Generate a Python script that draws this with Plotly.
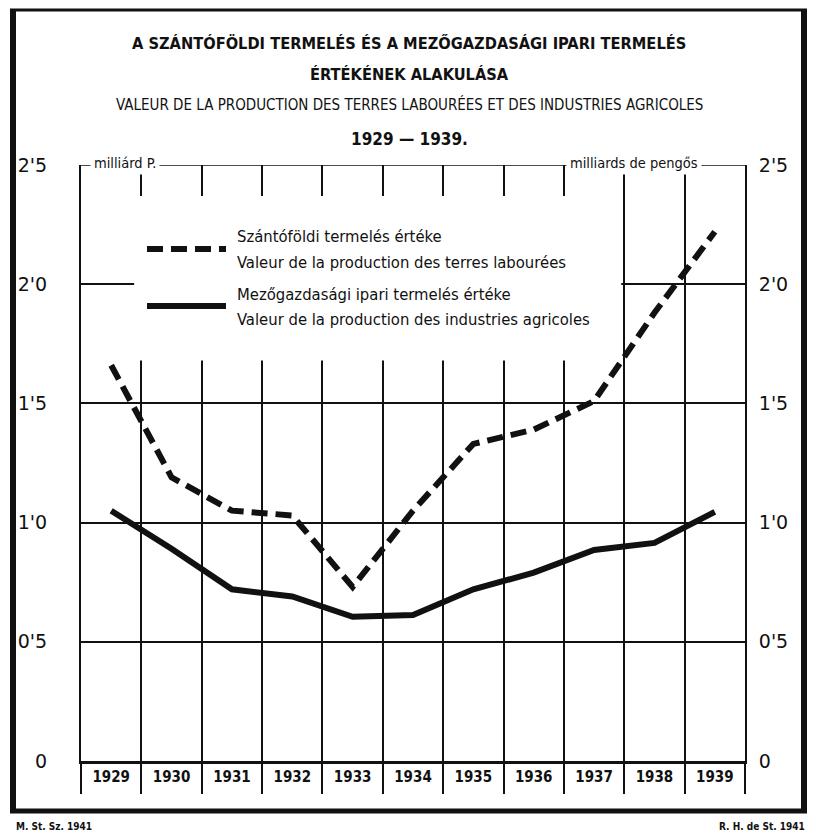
import plotly.graph_objects as go

# ---------------- data ----------------
years = [1929, 1930, 1931, 1932, 1933, 1934, 1935, 1936, 1937, 1938, 1939]
szantofoldi = [1.66, 1.19, 1.05, 1.03, 0.73, 1.05, 1.33, 1.39, 1.51, 1.88, 2.22]
mezogazd_ipari = [1.05, 0.89, 0.72, 0.69, 0.605, 0.612, 0.72, 0.79, 0.885, 0.915, 1.045]
y_tickvals = [0, 0.5, 1.0, 1.5, 2.0, 2.5]
y_ticktext = ["0", "0'5", "1'0", "1'5", "2'0", "2'5"]
year_labels = ["<b>%d</b>" % y for y in years]

# ---------------- geometry helpers (pixel -> paper) ----------------
W, H = 816, 838
L, R, T, B = 81, 745, 165, 761


def px(x):
    return (x - L) / (R - L)


def py(y):
    return (B - y) / (B - T)


COND = "Liberation Sans Narrow, DejaVu Sans Condensed, Arial Narrow, Roboto Condensed, sans-serif"
NUM = "DejaVu Sans, Liberation Sans, sans-serif"
INK = "#111111"

fig = go.Figure()
fig.add_trace(go.Scatter(
    x=years, y=szantofoldi, mode="lines", name="Szántóföldi termelés értéke",
    line=dict(color=INK, width=6, dash="16px,8px"), showlegend=False,
))
fig.add_trace(go.Scatter(
    x=years, y=mezogazd_ipari, mode="lines", name="Mezőgazdasági ipari termelés értéke",
    line=dict(color=INK, width=6), yaxis="y2", showlegend=False,
))

fig.update_layout(
    width=W, height=H,
    margin=dict(l=L, r=W - R, t=T, b=H - B),
    paper_bgcolor="white", plot_bgcolor="white",
    xaxis=dict(
        range=[1928.5, 1939.5], tickvals=years, ticktext=year_labels,
        showgrid=False, zeroline=False, ticks="",
        showline=True, linecolor=INK, linewidth=3,
        tickfont=dict(family=COND, size=15, color=INK),
        minor=dict(tick0=1928.5, dtick=1, showgrid=True, gridcolor=INK, gridwidth=1.5,
                   ticks="outside", ticklen=30, tickcolor=INK, tickwidth=1.5),
    ),
    yaxis=dict(
        range=[0, 2.5], tickvals=y_tickvals, ticktext=y_ticktext,
        showgrid=True, gridcolor=INK, gridwidth=1.5, zeroline=False,
        showline=True, linecolor=INK, linewidth=2, ticks="",
        ticklabelstandoff=28,
        tickfont=dict(family=NUM, size=19, color=INK),
    ),
    yaxis2=dict(
        range=[0, 2.5], tickvals=y_tickvals, ticktext=y_ticktext,
        overlaying="y", side="right", showgrid=False, zeroline=False,
        showline=True, linecolor=INK, linewidth=2, ticks="",
        ticklabelstandoff=8,
        tickfont=dict(family=NUM, size=19, color=INK),
    ),
    showlegend=False,
)

shapes = []
# top line at 2.5
shapes.append(dict(type="line", xref="paper", yref="y", x0=0, x1=1, y0=2.5, y1=2.5,
                   line=dict(color=INK, width=1.5)))
# blank area behind legend (grid interrupted)
shapes.append(dict(type="rect", xref="x", yref="y", x0=1929.38, x1=1937.45, y0=1.68, y1=2.37,
                   fillcolor="white", line=dict(width=0), layer="between"))
# legend samples
shapes.append(dict(type="line", xref="paper", yref="paper", x0=px(147), x1=px(226),
                   y0=py(249), y1=py(249), line=dict(color=INK, width=6, dash="16px,8px")))
shapes.append(dict(type="line", xref="paper", yref="paper", x0=px(147), x1=px(226),
                   y0=py(306), y1=py(306), line=dict(color=INK, width=6)))
# outer frame
shapes.append(dict(type="line", xref="paper", yref="paper", x0=px(13), x1=px(13), y0=py(9), y1=py(813),
                   line=dict(color=INK, width=6)))
shapes.append(dict(type="line", xref="paper", yref="paper", x0=px(804), x1=px(804), y0=py(9), y1=py(813),
                   line=dict(color=INK, width=6)))
shapes.append(dict(type="line", xref="paper", yref="paper", x0=px(10), x1=px(807), y0=py(10), y1=py(10),
                   line=dict(color=INK, width=3)))
shapes.append(dict(type="line", xref="paper", yref="paper", x0=px(10), x1=px(807), y0=py(811), y1=py(811),
                   line=dict(color=INK, width=5)))
fig.update_layout(shapes=shapes)

ann = []


def text(s, x, y, size, family=COND, xanchor="center", bg=None):
    d = dict(text=s, x=px(x), y=py(y), xref="paper", yref="paper", showarrow=False,
             xanchor=xanchor, yanchor="middle", font=dict(family=family, size=size, color=INK))
    if bg:
        d.update(bgcolor=bg, borderpad=3)
    ann.append(d)


text("<b>A SZÁNTÓFÖLDI TERMELÉS ÉS A MEZŐGAZDASÁGI IPARI TERMELÉS</b>", 409, 43, 16.3)
text("<b>ÉRTÉKÉNEK ALAKULÁSA</b>", 409, 75, 16.3)
text("VALEUR DE LA PRODUCTION DES TERRES LABOURÉES ET DES INDUSTRIES AGRICOLES", 409, 104, 15)
text("<b>1929 — 1939.</b>", 409, 139, 17)
text("milliárd P.", 90, 163, 14.5, xanchor="left", bg="white")
text("milliards de pengős", 702, 163, 14.5, xanchor="right", bg="white")
text("Szántóföldi termelés értéke", 235, 236, 16.5, xanchor="left")
text("Valeur de la production des terres labourées", 235, 262, 16.5, xanchor="left")
text("Mezőgazdasági ipari termelés értéke", 235, 294, 16.5, xanchor="left")
text("Valeur de la production des industries agricoles", 235, 319, 16.5, xanchor="left")
text("<b>M. St. Sz. 1941</b>", 14, 826, 10, xanchor="left")
text("<b>R. H. de St. 1941</b>", 807, 826, 10, xanchor="right")
fig.update_layout(annotations=ann)

fig.write_html("out.html", config={"displayModeBar": False},
               post_script="document.body.style.margin='0px';")
